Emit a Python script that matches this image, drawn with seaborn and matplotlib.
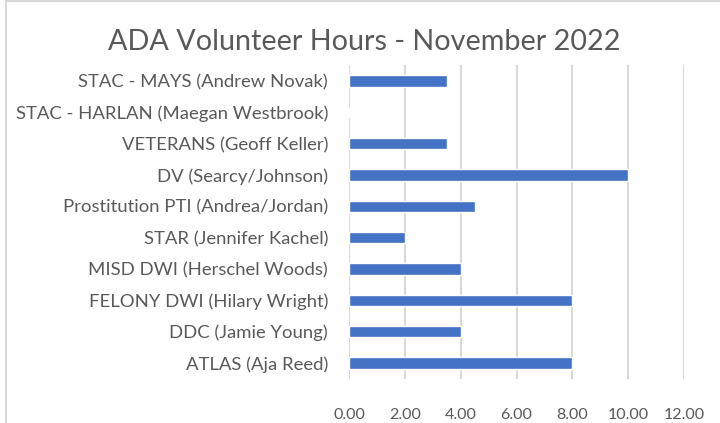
import pandas as pd
import seaborn as sns
import matplotlib.pyplot as plt
from matplotlib.patches import Rectangle

# Data
programs = [
    "STAC - MAYS (Andrew Novak)",
    "STAC - HARLAN (Maegan Westbrook)",
    "VETERANS (Geoff Keller)",
    "DV (Searcy/Johnson)",
    "Prostitution PTI (Andrea/Jordan)",
    "STAR (Jennifer Kachel)",
    "MISD DWI (Herschel Woods)",
    "FELONY DWI (Hilary Wright)",
    "DDC (Jamie Young)",
    "ATLAS (Aja Reed)",
]
hours = [3.5, 0, 3.5, 10, 4.5, 2, 4, 8, 4, 8]
x_ticks = [0, 2, 4, 6, 8, 10, 12]
x_ticklabels = ["0.00", "2.00", "4.00", "6.00", "8.00", "10.00", "12.00"]

df = pd.DataFrame({"program": programs, "hours": hours})

sns.set_style("white")
plt.rcParams["font.family"] = ["Lato", "DejaVu Sans"]

fig = plt.figure(figsize=(7.2, 4.23), dpi=100)
ax = fig.add_axes([349 / 720, 1 - 378.7 / 423, 335 / 720, 313.4 / 423])

sns.barplot(data=df, x="hours", y="program", order=programs, color="#4472C4",
            saturation=1, width=0.37, orient="h", ax=ax, zorder=3)

ax.set_xlim(0, 12)
ax.set_ylim(9.5, -0.5)
ax.set_xticks(x_ticks)
ax.set_xticklabels(x_ticklabels)
ax.set_xlabel("")
ax.set_ylabel("")
ax.grid(axis="x", color="#d9d9d9", linewidth=1.5, zorder=0)
ax.grid(axis="y", visible=False)
ax.set_axisbelow(True)
for s in ax.spines.values():
    s.set_visible(False)
ax.tick_params(axis="both", length=0, colors="#595959")
ax.tick_params(axis="x", pad=21, labelsize=11.5)
ax.tick_params(axis="y", pad=15, labelsize=13.3)

fig.text(364 / 720, 1 - 42 / 423, "ADA Volunteer Hours - November 2022",
         ha="center", va="center", fontsize=20.7, color="#595959")

# chart border
fig.patches.append(Rectangle((5.5 / 720, -0.1), 1.2, 1 - 1.5 / 423 + 0.1,
                             transform=fig.transFigure, fill=False,
                             edgecolor="#d9d9d9", linewidth=1.5))

fig.savefig("out.png", dpi=100)
plt.close()
